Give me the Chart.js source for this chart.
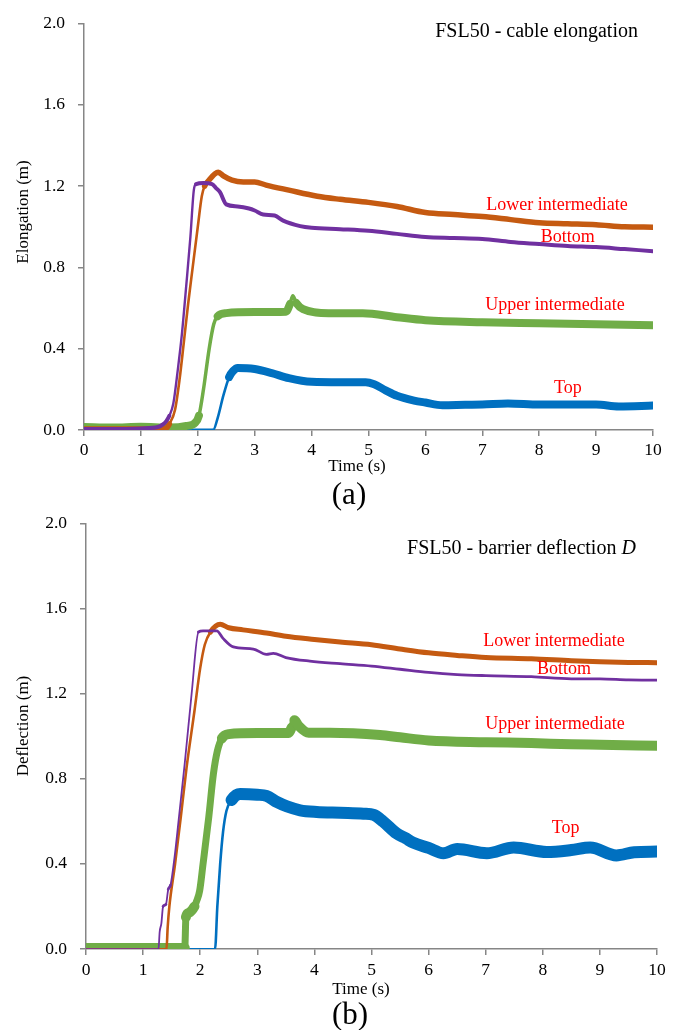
<!DOCTYPE html>
<html><head><meta charset="utf-8">
<script src="https://cdn.jsdelivr.net/npm/chart.js@4.4.1/dist/chart.umd.min.js"></script>
<style>
html,body{margin:0;padding:0;background:#fff;}
#wrap{position:relative;width:673px;height:1030px;overflow:hidden;background:#fff;}
#wrap canvas{position:absolute;left:0;}
#c1{top:0;width:673px;height:500px;}
#c2{top:500px;width:673px;height:530px;}
.cap{position:absolute;font-family:"Liberation Serif","Times New Roman",serif;color:#000;line-height:1;transform:translate(-50%,-50%);white-space:nowrap;}
</style></head><body>
<div id="wrap">
<canvas id="c1" width="673" height="500"></canvas>
<canvas id="c2" width="673" height="530"></canvas>
<div class="cap" style="left:349px;top:493px;font-size:31px">(a)</div>
<div class="cap" style="left:350px;top:1013px;font-size:31px">(b)</div>
</div>
<script>
// ---------- tick labels ----------
const xTickValues = [0,1,2,3,4,5,6,7,8,9,10];
const yTickValues = [0.0,0.4,0.8,1.2,1.6,2.0];

// ---------- (a) cable elongation : [time s, elongation m] ----------
const elongBottom = [[0,0.005],[0.5,0.005],[1.0,0.008],[1.3,0.015],[1.4,0.03],[1.45,0.045],[1.5,0.07],[1.57,0.13],[1.65,0.3],[1.72,0.47],[1.8,0.72],[1.87,0.95],[1.93,1.18],[1.97,1.21],[2.1,1.215],[2.25,1.21],[2.32,1.19],[2.39,1.17],[2.5,1.11],[2.7,1.1],[2.9,1.09],[3.0,1.08],[3.15,1.06],[3.35,1.055],[3.5,1.03],[3.8,1.003],[4.0,0.995],[4.5,0.988],[5.0,0.98],[5.5,0.965],[6.0,0.95],[6.5,0.945],[7.0,0.94],[7.5,0.925],[8.0,0.915],[8.5,0.905],[9.0,0.9],[9.5,0.89],[10,0.88]];
const elongLowerInt = [[0,0.005],[1.0,0.005],[1.45,0.01],[1.5,0.03],[1.6,0.1],[1.68,0.25],[1.75,0.42],[1.83,0.62],[1.91,0.8],[2.0,1.0],[2.07,1.15],[2.12,1.2],[2.2,1.23],[2.3,1.26],[2.36,1.268],[2.45,1.25],[2.6,1.229],[2.8,1.22],[3.0,1.22],[3.2,1.205],[3.6,1.18],[4.1,1.15],[4.5,1.135],[5.0,1.12],[5.5,1.1],[6.0,1.07],[6.5,1.06],[7.0,1.05],[7.5,1.035],[8.0,1.02],[8.5,1.015],[9.0,1.01],[9.5,1.0],[10,0.998]];
const elongUpperInt = [[0,0.015],[0.5,0.012],[1.0,0.016],[1.5,0.012],[1.8,0.02],[1.95,0.035],[2.02,0.07],[2.1,0.2],[2.2,0.4],[2.28,0.52],[2.35,0.56],[2.5,0.575],[3.0,0.58],[3.55,0.582],[3.62,0.62],[3.67,0.66],[3.73,0.625],[3.85,0.595],[4.3,0.575],[4.9,0.575],[5.5,0.555],[6.0,0.54],[7.0,0.53],[8.0,0.525],[9.0,0.52],[10,0.515]];
const elongTop = [[0,0],[2.27,0],[2.35,0.06],[2.45,0.17],[2.55,0.26],[2.62,0.29],[2.7,0.305],[3.0,0.3],[3.3,0.28],[3.6,0.255],[4.0,0.237],[4.5,0.235],[4.95,0.235],[5.1,0.225],[5.3,0.195],[5.5,0.168],[5.8,0.145],[6.0,0.135],[6.3,0.122],[6.7,0.124],[7.0,0.125],[7.45,0.13],[8.0,0.125],[8.5,0.125],[9.0,0.125],[9.4,0.116],[10,0.12]];

// ---------- (b) barrier deflection D : [time s, deflection m] ----------
const deflBottom = [[0,0],[1.27,0],[1.29,0.08],[1.32,0.12],[1.35,0.2],[1.4,0.21],[1.44,0.28],[1.48,0.3],[1.55,0.43],[1.62,0.6],[1.7,0.8],[1.73,0.875],[1.85,1.2],[1.97,1.49],[2.05,1.495],[2.29,1.495],[2.4,1.46],[2.58,1.42],[2.93,1.41],[3.16,1.385],[3.28,1.39],[3.5,1.37],[3.92,1.353],[4.45,1.341],[5.0,1.33],[5.5,1.315],[6.0,1.3],[6.5,1.29],[7.0,1.285],[7.8,1.28],[8.5,1.27],[9.0,1.27],[9.5,1.265],[10,1.264]];
const deflLowerInt = [[0,0],[1.41,0],[1.43,0.1],[1.46,0.2],[1.56,0.4],[1.66,0.62],[1.76,0.85],[1.9,1.12],[2.0,1.32],[2.08,1.43],[2.18,1.49],[2.35,1.526],[2.5,1.51],[2.75,1.5],[3.16,1.485],[3.5,1.47],[4.0,1.455],[4.45,1.443],[5.0,1.43],[5.5,1.41],[6.0,1.392],[6.5,1.38],[7.0,1.37],[7.8,1.364],[8.5,1.355],[9.0,1.35],[9.5,1.347],[10,1.346]];
const deflUpperInt = [[0,0.005],[1.73,0.005],[1.75,0.15],[1.8,0.17],[1.9,0.2],[1.94,0.227],[1.99,0.273],[2.05,0.4],[2.15,0.62],[2.23,0.82],[2.3,0.93],[2.38,0.99],[2.5,1.01],[3.0,1.015],[3.55,1.015],[3.6,1.04],[3.65,1.075],[3.72,1.05],[3.9,1.017],[4.27,1.017],[5.15,1.006],[5.5,0.995],[6.0,0.98],[7.0,0.972],[7.8,0.968],[8.5,0.962],[9.0,0.96],[10,0.955]];
const deflTop = [[0,0],[2.26,0],[2.3,0.2],[2.35,0.4],[2.4,0.55],[2.46,0.65],[2.55,0.7],[2.7,0.728],[3.0,0.725],[3.16,0.72],[3.35,0.69],[3.52,0.67],[3.75,0.652],[4.04,0.644],[4.45,0.64],[4.86,0.636],[5.04,0.63],[5.2,0.6],[5.44,0.543],[5.6,0.52],[5.73,0.5],[6.0,0.475],[6.26,0.45],[6.5,0.47],[7.02,0.45],[7.49,0.477],[8.07,0.456],[8.5,0.465],[8.83,0.477],[9.29,0.44],[9.6,0.455],[10,0.458]];

// ---------- styling ----------
const SERIF = "'Liberation Serif','Times New Roman',serif";
const AXIS = '#868686';
const C_BOTTOM = '#7030A0', C_LOWER = '#C55A11', C_UPPER = '#70AD47', C_TOP = '#0070C0', C_LABEL = '#FF0000';

// thick noisy band on gentle parts, thin trace on steep rises and the zero baseline
function band(h, steepW, baseW) {
  return ctx => {
    if (ctx.p0.parsed.y === 0 && ctx.p1.parsed.y === 0) return baseW;
    const dx = Math.abs(ctx.p1.x - ctx.p0.x), dy = Math.abs(ctx.p1.y - ctx.p0.y);
    return dy > 2 * dx ? steepW : h;
  };
}
function ds(label, data, color, h, steepW, baseW) {
  return {
    label, data: data.map(p => ({x: p[0], y: p[1]})),
    borderColor: color, backgroundColor: color, borderWidth: h,
    pointRadius: 0, fill: false, clip: 0,
    cubicInterpolationMode: 'monotone',
    borderCapStyle: 'round', borderJoinStyle: 'round',
    segment: {borderWidth: band(h, steepW, baseW)}
  };
}

const textPlugin = {
  id: 'texts',
  afterDraw(chart, args, opts) {
    const ctx = chart.ctx, xs = chart.scales.x, ys = chart.scales.y;
    for (const it of opts.items) {
      const px = it.t !== undefined ? xs.getPixelForValue(it.t) : it.px;
      const py = it.v !== undefined ? ys.getPixelForValue(it.v) : it.py;
      ctx.save();
      ctx.fillStyle = it.color || '#000';
      ctx.textBaseline = 'middle';
      const size = it.size || 17;
      if (it.parts) {
        let total = 0;
        for (const p of it.parts) { ctx.font = (p.style || '') + size + 'px ' + SERIF; total += ctx.measureText(p.text).width; }
        let x = px - total;
        ctx.textAlign = 'left';
        for (const p of it.parts) { ctx.font = (p.style || '') + size + 'px ' + SERIF; ctx.fillText(p.text, x, py); x += ctx.measureText(p.text).width; }
      } else {
        ctx.font = size + 'px ' + SERIF;
        ctx.textAlign = it.align || 'center';
        if (it.rotate) { ctx.translate(px, py); ctx.rotate(-Math.PI / 2); ctx.fillText(it.text, 0, 0); }
        else ctx.fillText(it.text, px, py);
      }
      ctx.restore();
    }
  }
};

function makeChart(id, datasets, axisW, axisH, pad, xPad, items) {
  return new Chart(document.getElementById(id), {
    type: 'line',
    data: {datasets},
    plugins: [textPlugin],
    options: {
      responsive: false, animation: false, events: [],
      layout: {padding: pad},
      plugins: {legend: {display: false}, tooltip: {enabled: false}, texts: {items}},
      scales: {
        x: {
          type: 'linear', min: 0, max: 10, z: 1,
          afterBuildTicks: s => { s.ticks = xTickValues.map(v => ({value: v})); },
          afterFit: s => { s.height = axisH; },
          ticks: {color: '#000', font: {family: SERIF, size: 17.5}, padding: xPad, maxRotation: 0, autoSkip: false, callback: v => String(v)},
          grid: {drawOnChartArea: false, drawTicks: true, tickLength: 6, color: AXIS, lineWidth: 1.5},
          border: {color: AXIS, width: 1.5}
        },
        y: {
          type: 'linear', min: 0, max: 2, z: 1,
          afterBuildTicks: s => { s.ticks = yTickValues.map(v => ({value: v})); },
          afterFit: s => { s.width = axisW; },
          ticks: {color: '#000', font: {family: SERIF, size: 17.5}, padding: 13, callback: v => Number(v).toFixed(1)},
          grid: {drawOnChartArea: false, drawTicks: true, tickLength: 6, color: AXIS, lineWidth: 1.5},
          border: {color: AXIS, width: 1.5}
        }
      }
    }
  });
}

makeChart('c1', [
  ds('Bottom', elongBottom, C_BOTTOM, 4, 2.4, 2),
  ds('Lower intermediate', elongLowerInt, C_LOWER, 5.5, 2.6, 2),
  ds('Upper intermediate', elongUpperInt, C_UPPER, 8, 3.5, 6),
  ds('Top', elongTop, C_TOP, 8, 2.6, 3)
], 84, 70, {top: 15, right: 20, bottom: 0, left: 0}, 4, [
  {text: 'FSL50 - cable elongation', t: 9.736, v: 1.961, align: 'right', size: 20},
  {text: 'Lower intermediate', t: 8.313, v: 1.108, color: C_LABEL, size: 18},
  {text: 'Bottom', t: 8.50, v: 0.949, color: C_LABEL, size: 18},
  {text: 'Upper intermediate', t: 8.278, v: 0.613, color: C_LABEL, size: 18},
  {text: 'Top', t: 8.506, v: 0.207, color: C_LABEL, size: 18},
  {text: 'Time (s)', px: 357, py: 467, size: 17},
  {text: 'Elongation (m)', px: 24, py: 212, size: 17, rotate: true}
]);

makeChart('c2', [
  ds('Bottom', deflBottom, C_BOTTOM, 2.8, 1.8, 1.5),
  ds('Lower intermediate', deflLowerInt, C_LOWER, 5, 2.6, 2),
  ds('Upper intermediate', deflUpperInt, C_UPPER, 10, 7, 7),
  ds('Top', deflTop, C_TOP, 12, 2.6, 2)
], 86, 81, {top: 17, right: 16, bottom: 0, left: 0}, 5, [
  {parts: [{text: 'FSL50 - barrier deflection '}, {text: 'D', style: 'italic '}], t: 9.63, v: 1.88, size: 20},
  {text: 'Lower intermediate', t: 8.196, v: 1.446, color: C_LABEL, size: 18},
  {text: 'Bottom', t: 8.371, v: 1.315, color: C_LABEL, size: 18},
  {text: 'Upper intermediate', t: 8.214, v: 1.057, color: C_LABEL, size: 18},
  {text: 'Top', t: 8.40, v: 0.566, color: C_LABEL, size: 18},
  {text: 'Time (s)', px: 361, py: 490, size: 17},
  {text: 'Deflection (m)', px: 24, py: 226, size: 17, rotate: true}
]);
</script>
</body></html>
